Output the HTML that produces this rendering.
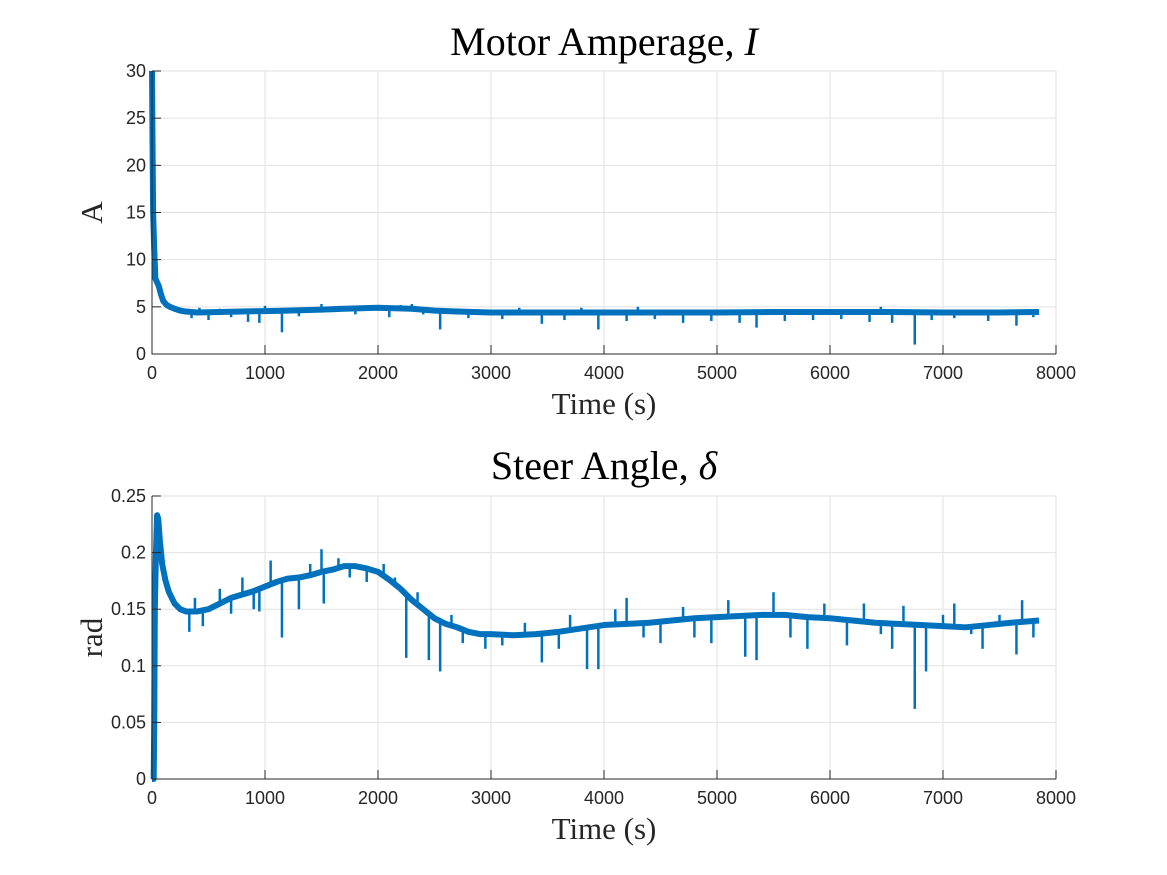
<!DOCTYPE html>
<html><head><meta charset="utf-8"><style>
html,body{margin:0;padding:0;background:#fff;width:1167px;height:875px;overflow:hidden}
svg{display:block}
.tick{font-family:"Liberation Sans",sans-serif;font-size:18px;fill:#262626}
.title{font-family:"Liberation Serif",serif;font-size:40px;fill:#000}
.lab{font-family:"Liberation Serif",serif;font-size:31px;fill:#262626}
</style></head><body>
<svg id="chart" width="1167" height="875"></svg>
<script>
const xTicks=[0,1000,2000,3000,4000,5000,6000,7000,8000];
const ampTicks=[0,5,10,15,20,25,30];
const steerTicks=[0,0.05,0.1,0.15,0.2,0.25];
const steerTickLabels=["0","0.05","0.1","0.15","0.2","0.25"];
const ampT=[0,5,10,20,30,45,60,80,100,130,160,200,250,300,400,600,800,1000,1200,1500,1700,2000,2300,2500,2700,3000,3500,4000,4500,5000,5500,6000,6500,7000,7500,7850];
const ampV=[30,22,15,11,8,7.6,7.2,6.3,5.6,5.2,5.0,4.8,4.6,4.5,4.4,4.45,4.5,4.55,4.6,4.7,4.8,4.9,4.8,4.6,4.5,4.4,4.4,4.4,4.4,4.4,4.45,4.45,4.45,4.4,4.4,4.45];
const ampSpikeT=[350,420,500,600,700,850,950,1000,1150,1300,1500,1650,1800,2100,2200,2300,2400,2550,2800,3100,3250,3450,3650,3800,3950,4200,4300,4450,4700,4950,5200,5350,5600,5850,6100,6350,6450,6550,6750,6900,7100,7400,7650,7800];
const ampSpikeV=[3.8,4.9,3.6,4.8,3.9,3.4,3.3,5.1,2.3,4.0,5.3,5.1,4.2,3.9,5.2,5.3,4.2,2.6,3.8,3.7,4.9,3.2,3.6,4.9,2.6,3.5,5.0,3.7,3.3,3.5,3.3,2.8,3.5,3.6,3.7,3.4,5.0,3.3,1.0,3.6,3.8,3.5,3.0,3.9];
const steerT=[0,15,20,25,35,45,55,70,90,120,150,200,250,300,400,500,600,700,800,900,1000,1100,1200,1300,1400,1500,1600,1700,1800,1900,2000,2100,2200,2300,2400,2500,2600,2700,2800,2900,3000,3200,3400,3600,3800,4000,4200,4400,4600,4800,5000,5200,5400,5600,5800,6000,6200,6400,6600,6800,7000,7200,7400,7600,7850];
const steerV=[0,0,0.05,0.15,0.2,0.233,0.23,0.21,0.19,0.175,0.165,0.155,0.15,0.148,0.148,0.15,0.155,0.16,0.163,0.166,0.17,0.174,0.177,0.178,0.18,0.183,0.185,0.188,0.188,0.186,0.183,0.176,0.168,0.158,0.15,0.142,0.137,0.134,0.13,0.128,0.128,0.127,0.128,0.13,0.133,0.136,0.137,0.138,0.14,0.142,0.143,0.144,0.145,0.145,0.143,0.142,0.14,0.138,0.137,0.136,0.135,0.134,0.136,0.138,0.14];
const steerSpikeT=[330,380,450,600,700,800,900,950,1050,1150,1300,1400,1500,1520,1650,1750,1900,2050,2150,2250,2350,2450,2550,2650,2750,2950,3100,3300,3450,3600,3700,3850,3950,4100,4200,4350,4500,4700,4800,4950,5100,5250,5350,5500,5650,5800,5950,6150,6300,6450,6550,6650,6750,6850,7000,7100,7250,7350,7500,7650,7700,7800];
const steerSpikeV=[0.13,0.16,0.135,0.168,0.146,0.178,0.15,0.148,0.193,0.125,0.15,0.19,0.203,0.155,0.195,0.178,0.174,0.19,0.178,0.107,0.165,0.105,0.095,0.145,0.12,0.115,0.118,0.138,0.103,0.115,0.145,0.097,0.097,0.15,0.16,0.125,0.12,0.152,0.125,0.12,0.158,0.108,0.105,0.165,0.125,0.115,0.155,0.118,0.155,0.128,0.115,0.153,0.062,0.095,0.145,0.155,0.128,0.115,0.145,0.11,0.158,0.125];
const NS='http://www.w3.org/2000/svg';
const svg=document.getElementById('chart');
function mk(tag,attrs,parent){const e=document.createElementNS(NS,tag);for(const k in attrs)e.setAttribute(k,attrs[k]);(parent||svg).appendChild(e);return e;}
const X0=152,X1=1056;
const xs=t=>X0+t*(X1-X0)/8000;
function panel(name,top,bot,ymax,yTicks,yLabels,T,V,ST,SV,title,ylab,titleY){
  const ys=v=>bot-v*(bot-top)/ymax;
  const g=mk('g',{});
  
  
  xTicks.forEach(t=>{const l=mk('line',{x1:xs(t),x2:xs(t),y1:top,y2:bot,stroke:'#e2e2e2','stroke-width':1},g);});
  yTicks.forEach(v=>{const l=mk('line',{x1:X0,x2:X1,y1:ys(v),y2:ys(v),stroke:'#e2e2e2','stroke-width':1},g);});
  const pts=T.map((t,i)=>xs(t)+','+ys(V[i])).join(' ');
  const band=mk('polyline',{points:pts,fill:'none',stroke:'#0072bd','stroke-width':6,'stroke-linejoin':'round'},g);
  
  
  const line=mk('polyline',{points:pts,fill:'none',stroke:'#0072bd','stroke-width':2.5},g);
  
  
  const interp=t=>{for(let i=1;i<T.length;i++){if(t<=T[i]){const f=(t-T[i-1])/(T[i]-T[i-1]);return V[i-1]+f*(V[i]-V[i-1]);}}return V[V.length-1];};
  ST.forEach((t,i)=>{const s=mk('line',{x1:xs(t),x2:xs(t),y1:ys(interp(t)),y2:ys(SV[i]),stroke:'#0072bd','stroke-width':2.5},g);});
  const ax=mk('path',{d:`M${X0},${top}V${bot}H${X1}`,fill:'none',stroke:'#262626','stroke-width':1},g);
  
  
  xTicks.forEach(t=>{mk('line',{x1:xs(t),x2:xs(t),y1:bot,y2:bot-9,stroke:'#262626'},g);const tx=mk('text',{x:xs(t),y:bot+25,'text-anchor':'middle',class:'tick'},g);tx.textContent=t;});
  yTicks.forEach((v,i)=>{mk('line',{x1:X0,x2:X0+9,y1:ys(v),y2:ys(v),stroke:'#262626'},g);const tx=mk('text',{x:X0-6,y:ys(v)+6,'text-anchor':'end',class:'tick'},g);tx.textContent=yLabels[i];});
  const tt=mk('text',{x:604,y:titleY,'text-anchor':'middle',class:'title'},g);tt.innerHTML=title;
  
  
  const xl=mk('text',{x:604,y:bot+60,'text-anchor':'middle',class:'lab'},g);xl.textContent='Time (s)';
  
  
  const cy=(top+bot)/2;
  const yl=mk('text',{x:0,y:0,'text-anchor':'middle',class:'lab',transform:`translate(102,${cy}) rotate(-90)`},g);yl.textContent=ylab;
  
  
}
panel('amperage-panel',71,354,30,ampTicks,ampTicks.map(String),ampT,ampV,ampSpikeT,ampSpikeV,'Motor Amperage, <tspan font-style="italic">I</tspan>','A',55);
panel('steer-panel',496,779,0.25,steerTicks,steerTickLabels,steerT,steerV,steerSpikeT,steerSpikeV,'Steer Angle, <tspan font-style="italic">δ</tspan>','rad',479);
</script>
</body></html>
